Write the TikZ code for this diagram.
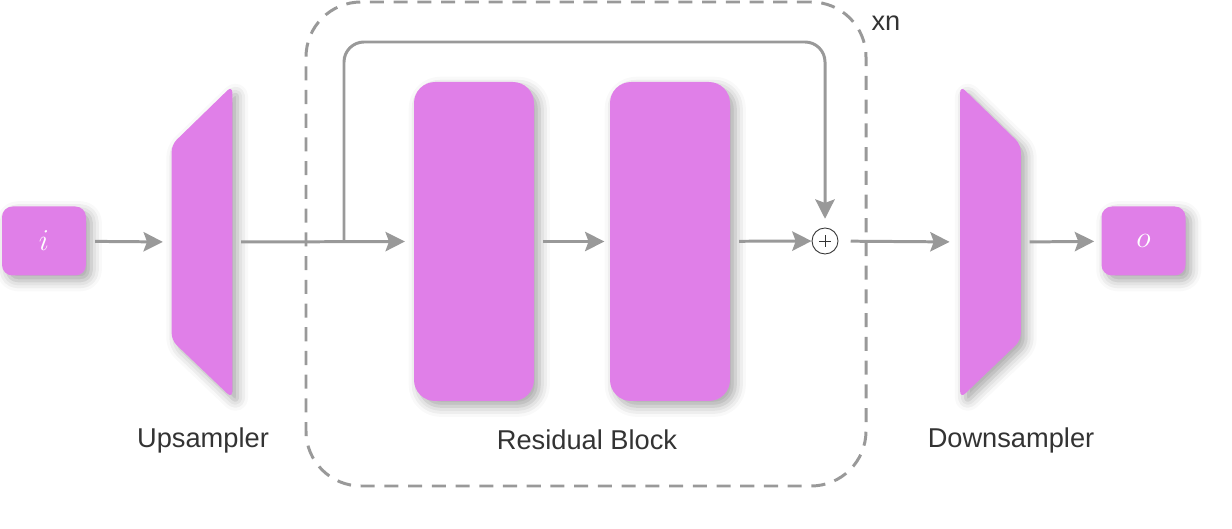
\documentclass[tikz,border=0pt]{standalone}
\usepackage{fontspec}
\setsansfont{Liberation Sans}
\usepackage{amsmath}
\usetikzlibrary{arrows.meta, positioning, shadows.blur}

\definecolor{blockpink}{HTML}{E07FE8}
\definecolor{linegray}{HTML}{999999}
\definecolor{textgray}{HTML}{333333}

\tikzset{
  softshadow/.style={blur shadow={shadow xshift=3pt, shadow yshift=-3pt, shadow blur radius=6pt, shadow opacity=35}},
  iobox/.style={fill=blockpink, rounded corners=6pt, minimum width=1.68cm, minimum height=1.38cm, text=white, font=\LARGE, softshadow},
  resbox/.style={fill=blockpink, rounded corners=12pt, minimum width=2.4cm, minimum height=6.38cm, softshadow},
  samplerbox/.style={minimum width=1.2cm, minimum height=6.24cm, inner sep=0pt},
  flow/.style={->, draw=linegray, line width=1.7pt},
  caption/.style={font=\sffamily\fontsize{15.5}{18}\selectfont, text=textgray},
}

\begin{document}
\begin{tikzpicture}[>={Stealth[length=11pt, width=11pt, inset=2pt]}]
  \useasboundingbox (0,0) rectangle (24.64,10.56);

  % Repeated block (dashed frame)
  \node[draw=linegray, line width=1.7pt, dash pattern=on 8pt off 5.5pt, rounded corners=1.1cm,
        minimum width=11.2cm, minimum height=9.68cm] (loop) at (11.72,5.68) {};
  \node[font=\sffamily\fontsize{15.5}{18}\selectfont, text=textgray] (times) at (17.72,10.1) {xn};

  % Input and upsampler
  \node[iobox] (in) at (0.88,5.74) {$i$};
  \node[samplerbox] (up) at (4.04,5.72) {};
  \fill[blockpink, rounded corners=4pt, softshadow]
    (up.north east) -- (up.south east) -- ([yshift=1.16cm]up.south west)
    -- ([yshift=-1.18cm]up.north west) -- cycle;
  \node[caption] (uplabel) at (4.06,1.76) {Upsampler};

  % Residual block
  \node[resbox] (res1) at (9.48,5.73) {};
  \node[resbox] (res2) at (13.4,5.73) {};
  \node[circle, draw=textgray, fill=white, line width=0.5pt, minimum size=0.52cm, inner sep=0pt] (add) at (16.5,5.74) {};
  \draw[textgray, line width=0.5pt] ([xshift=-0.12cm]add.center) -- ([xshift=0.12cm]add.center)
    ([yshift=-0.12cm]add.center) -- ([yshift=0.12cm]add.center);
  \node[caption] (reslabel) at (11.74,1.76) {Residual Block};

  % Downsampler and output
  \node[samplerbox] (down) at (19.81,5.72) {};
  \fill[blockpink, rounded corners=4pt, softshadow]
    (down.north west) -- (down.south west) -- ([yshift=1.16cm]down.south east)
    -- ([yshift=-1.18cm]down.north east) -- cycle;
  \node[caption] (downlabel) at (20.22,1.76) {Downsampler};
  \node[iobox] (out) at (22.87,5.74) {$o$};

  % Connections
  \coordinate (skip) at (6.88,5.74);
  \draw[flow, shorten <=5pt, shorten >=5pt] (in) -- (up.west);
  \draw[flow, shorten <=5pt, shorten >=5pt] (up.east) -- (res1.west);
  \draw[flow, shorten <=5pt, shorten >=3pt] (res1) -- (res2);
  \draw[flow, shorten <=5pt] (res2) -- (add);
  \draw[flow, rounded corners=0.4cm, shorten >=5pt] (skip) -- ++(0,3.98) -| (add.north);
  \draw[flow, shorten <=7pt, shorten >=6pt] (add) -- (down.west);
  \draw[flow, shorten <=5pt, shorten >=4pt] (down.east) -- (out);
\end{tikzpicture}
\end{document}
